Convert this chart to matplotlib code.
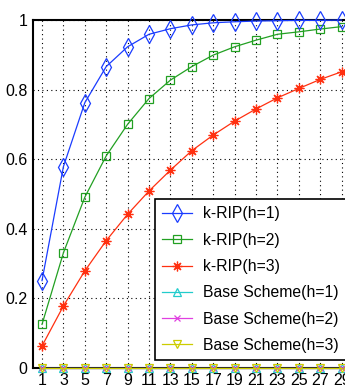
import matplotlib
matplotlib.use("Agg")
import matplotlib.pyplot as plt

plt.rcParams['font.family'] = ['Liberation Sans', 'DejaVu Sans']

x = [1, 3, 5, 7, 9, 11, 13, 15, 17, 19, 21, 23, 25, 27, 29]
krip_h1 = [0.25, 0.578, 0.762, 0.866, 0.923, 0.959, 0.975, 0.986, 0.992, 0.995, 0.997, 0.998, 0.999, 0.999, 1.0]
krip_h2 = [0.124, 0.330, 0.49, 0.609, 0.70, 0.774, 0.827, 0.866, 0.899, 0.923, 0.942, 0.959, 0.966, 0.974, 0.981]
krip_h3 = [0.062, 0.177, 0.278, 0.365, 0.441, 0.508, 0.568, 0.624, 0.669, 0.709, 0.744, 0.776, 0.803, 0.829, 0.851]
base_h1 = [0.0] * 15
base_h2 = [0.0] * 15
base_h3 = [0.0] * 15
labels = ['k-RIP(h=1)', 'k-RIP(h=2)', 'k-RIP(h=3)',
          'Base Scheme(h=1)', 'Base Scheme(h=2)', 'Base Scheme(h=3)']
yticks = [0, 0.2, 0.4, 0.6, 0.8, 1]
yticklabels = ['0', '0.2', '0.4', '0.6', '0.8', '1']

fig = plt.figure(figsize=(3.45, 3.91), dpi=100)
ax = fig.add_axes([0.0957, 0.0601, 0.9255, 0.8887])

lw = 0.9
ax.plot(x, krip_h1, color='#1a3cff', marker='d', mfc='none', ms=9, mew=0.9, lw=lw, label=labels[0], clip_on=False, zorder=5)
ax.plot(x, krip_h2, color='#22a022', marker='s', mfc='none', ms=6, mew=0.9, lw=lw, label=labels[1], clip_on=False, zorder=4)
ax.plot(x, krip_h3, color='#ff3010', marker=(8, 2, 0), ms=7, mew=0.9, lw=lw, label=labels[2], clip_on=False, zorder=4)
ax.plot(x, base_h1, color='#22cccc', marker='^', mfc='none', ms=6, mew=0.9, lw=lw, label=labels[3], clip_on=False, zorder=4)
ax.plot(x, base_h2, color='#e040e0', marker='x', ms=5, mew=0.9, lw=lw, label=labels[4], clip_on=False, zorder=4)
ax.plot(x, base_h3, color='#cccc00', marker='v', mfc='none', ms=6, mew=0.9, lw=lw, label=labels[5], clip_on=False, zorder=4)

ax.set_xlim(0.16, 30)
ax.set_ylim(0, 1)
ax.set_xticks(x)
ax.set_xticklabels([str(v) for v in x])
ax.set_yticks(yticks)
ax.set_yticklabels(yticklabels)
ax.tick_params(labelsize=11.5, direction='in', length=0, pad=4)
ax.grid(True, color='black', linestyle=(0, (1, 3)), linewidth=0.8)
for s in ax.spines.values():
    s.set_linewidth(1.5)

leg = ax.legend(loc='lower left', bbox_to_anchor=(0.382, 0.0216, 0.64, 0.45), mode='expand',
                fontsize=11.3,
                frameon=True, fancybox=False, edgecolor='black', framealpha=1,
                handlelength=1.9, handletextpad=0.7, borderpad=0.45, labelspacing=0.72,
                borderaxespad=0)
leg.get_frame().set_linewidth(1.2)
leg.set_zorder(10)

fig.savefig('out.png', dpi=100)
